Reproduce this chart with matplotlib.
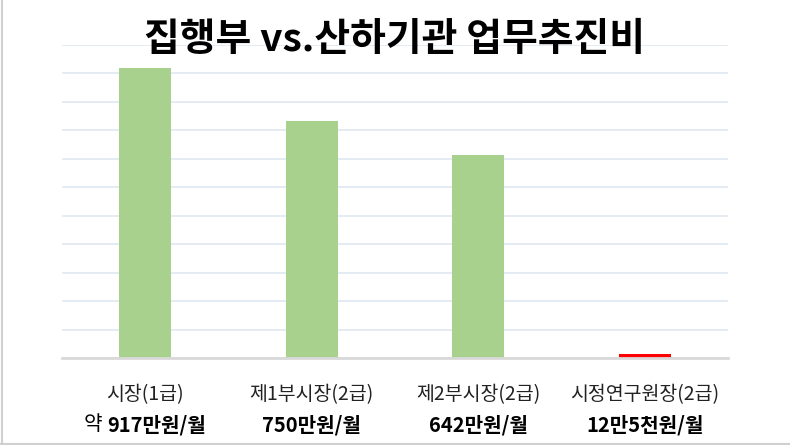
import matplotlib
matplotlib.use("Agg")
from matplotlib import pyplot as plt
from matplotlib.lines import Line2D
import numpy as np

plt.rcParams['font.family'] = ['Noto Sans CJK KR', 'DejaVu Sans']

# data
categories = ['시장(1급)', '제1부시장(2급)', '제2부시장(2급)', '시정연구원장(2급)']
values = [917, 750, 642, 12.5]
prefixes = ['약 ', '', '', '']
amount_labels = ['917만원/월', '750만원/월', '642만원/월', '12만5천원/월']
bar_colors = ['#a9d18e', '#a9d18e', '#a9d18e', '#ff0000']
grid_ticks = np.arange(0, 991, 90)

fig = plt.figure(figsize=(7.9, 4.45), dpi=100)
ax = fig.add_axes([62 / 790, (445 - 358) / 445, 666 / 790, 313 / 445])

x = np.arange(len(categories))
ax.bar(x, values, width=0.31, color=bar_colors, zorder=3)

ax.set_xlim(-0.5, len(categories) - 0.5)
ax.set_ylim(0, 990)
ax.set_yticks(grid_ticks)
ax.yaxis.grid(True, color='#dfe7f1', linewidth=1.2, zorder=0)
ax.tick_params(axis='both', length=0, labelleft=False)
for s in ['top', 'right', 'left']:
    ax.spines[s].set_visible(False)
ax.spines['bottom'].set_color('#d9d9d9')
ax.spines['bottom'].set_linewidth(2)
ax.spines['bottom'].set_zorder(4)

ax.set_xticks(x)
ax.set_xticklabels(categories, fontsize=14, color='#222222')
ax.tick_params(axis='x', pad=19)

fig.text(0.5, 1 - 40 / 445, '집행부 vs.산하기관 업무추진비', ha='center', va='center',
         fontsize=28, fontweight='bold', color='black')

# second label line: amount in bold, optional regular prefix
fig.canvas.draw()
renderer = fig.canvas.get_renderer()
y_line2 = 1 - 425 / 445
for i, (pre, amt) in enumerate(zip(prefixes, amount_labels)):
    xc = ax.transData.transform((x[i], 0))[0] / fig.bbox.width
    t_amt = fig.text(0, y_line2, amt, ha='left', va='center', fontsize=14.5,
                     fontweight='bold', color='black')
    w_amt = t_amt.get_window_extent(renderer).width / fig.bbox.width
    w_pre = 0
    t_pre = None
    if pre:
        t_pre = fig.text(0, y_line2, pre, ha='left', va='center', fontsize=14.5,
                         color='black')
        w_pre = t_pre.get_window_extent(renderer).width / fig.bbox.width
    x0 = xc - (w_pre + w_amt) / 2
    if t_pre is not None:
        t_pre.set_x(x0)
    t_amt.set_x(x0 + w_pre)

# frame lines on left and bottom
fig.add_artist(Line2D([1.5 / 790, 1.5 / 790], [0, 1], color='#d0d0d0', linewidth=1.5))
fig.add_artist(Line2D([0, 1], [1 / 445, 1 / 445], color='#d0d0d0', linewidth=1.5))

fig.savefig('out.png', dpi=100)
